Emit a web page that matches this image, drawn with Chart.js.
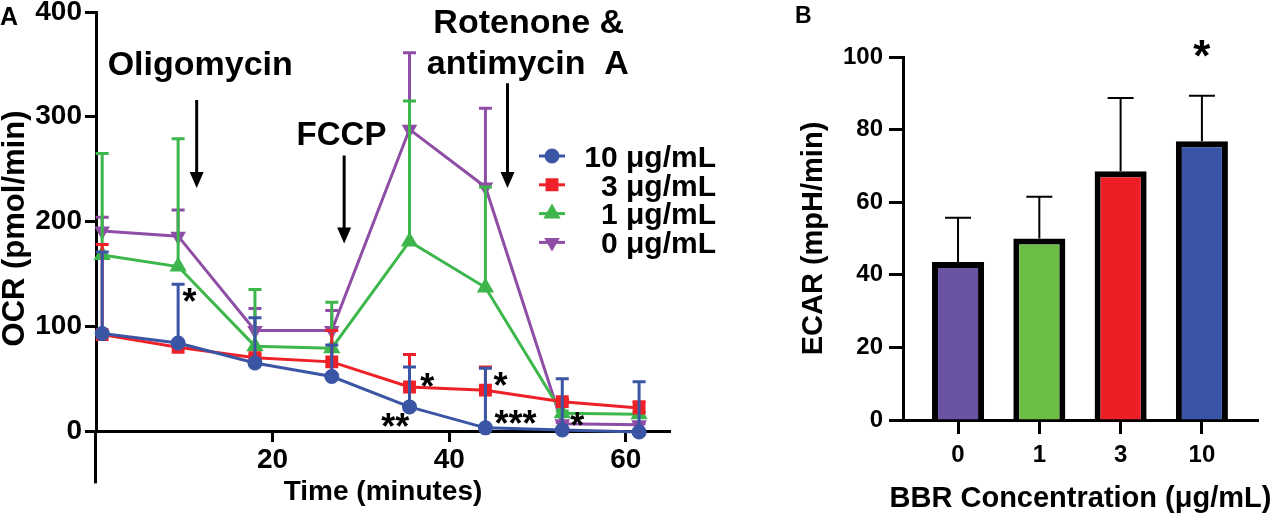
<!DOCTYPE html>
<html><head><meta charset="utf-8">
<script src="https://cdn.jsdelivr.net/npm/chart.js@4.4.1/dist/chart.umd.min.js"></script>
<style>
html,body{margin:0;padding:0;background:#fff;width:1275px;height:522px;overflow:hidden}
#wa{position:absolute;left:0;top:0;width:770px;height:522px}
#wb{position:absolute;left:770px;top:0;width:505px;height:522px}
</style></head><body>
<div id="wa"><canvas id="ca"></canvas></div>
<div id="wb"><canvas id="cb"></canvas></div>
<script>
const FONT = "'Liberation Sans', Arial, Helvetica, sans-serif";

// ---------- Panel A data ----------
const timeMinutes = [0.7, 9.3, 18.0, 26.7, 35.5, 44.1, 52.8, 61.5];
const seriesLabels = ['10 μg/mL', '3 μg/mL', '1 μg/mL', '0 μg/mL'];
const ocr10 = [93, 84, 65, 52, 23, 3, 1, -1];
const ocr10Sd = [78, 56, 43, 30, 38, 57, 49, 48];
const ocr3 = [92, 80, 70, 66, 42, 39, 28, 22];
const ocr3Sd = [86, 3, 3, 30, 31, 22, 2, 6];
const ocr1 = [168, 157, 81, 79, 181, 137, 17, 16];
const ocr1Sd = [97, 122, 54, 44, 134, 96, 2, 2];
const ocr0 = [191, 186, 96, 96, 288, 233, 7, 6];
const ocr0Sd = [13, 25, 21, 19, 73, 75, 1, 1];
const timeTicks = [20, 40, 60];
const ocrTicks = [0, 100, 200, 300, 400];

// ---------- Panel B data ----------
const concCategories = ['0', '1', '3', '10'];
const ecarMean = [43.5, 50.0, 68.5, 76.8];
const ecarSd = [12.2, 11.5, 20.2, 12.5];
const ecarTicks = [0, 20, 40, 60, 80, 100];

// ---------- styles ----------
const lineColors = ['#3B55A5', '#EE2028', '#3DB64B', '#8E4EA6'];
const pointStyles = ['circle', 'rect', 'triangle', 'triangle'];
const pointRotations = [0, 0, 0, 180];
const pointRadii = [6, 7, 7, 6];
const barColors = ['#6B53A3', '#6BBD45', '#ED1F26', '#3A55A5'];

const toXY = (xs, ys) => xs.map((x, i) => ({x: x, y: ys[i]}));
const f = (size, lh) => ({family: FONT, size: size, weight: 'bold', lineHeight: lh || 1.2});

const errorBarPlugin = {
  id: 'errbars',
  _draw(chart, args, opts) {
    const ds = chart.data.datasets[args.index];
    if (!ds.sd) return;
    const meta = args.meta;
    const ys = chart.scales[meta.yAxisID];
    const ctx = chart.ctx;
    ctx.save();
    ctx.strokeStyle = opts.color || ds.borderColor;
    ctx.lineWidth = opts.lineWidth;
    ctx.lineCap = 'butt';
    meta.data.forEach((el, i) => {
      const v = ds.data[i].y, s = ds.sd[i];
      const x = el.x, y0 = ys.getPixelForValue(v), y1 = ys.getPixelForValue(v + s);
      ctx.beginPath();
      ctx.moveTo(x, y0); ctx.lineTo(x, y1);
      ctx.moveTo(x - opts.cap / 2, y1); ctx.lineTo(x + opts.cap / 2, y1);
      ctx.stroke();
    });
    ctx.restore();
  },
  beforeDatasetDraw(chart, args, opts) { if (!opts.after) this._draw(chart, args, opts); },
  afterDatasetDraw(chart, args, opts) { if (opts.after) this._draw(chart, args, opts); }
};

const annotationPlugin = {
  id: 'annot',
  afterDatasetsDraw(chart, args, opts) {
    const ctx = chart.ctx, xs = chart.scales.x, ys = chart.scales.y, ca = chart.chartArea;
    ctx.save();
    ctx.fillStyle = '#000';
    ctx.strokeStyle = '#000';
    (opts.texts || []).forEach(t => {
      ctx.font = 'bold ' + t.size + 'px ' + FONT;
      ctx.textAlign = 'center';
      ctx.textBaseline = 'alphabetic';
      ctx.fillText(t.text, xs.getPixelForValue(t.x), ys.getPixelForValue(t.y) + (t.dy || 0));
    });
    (opts.arrows || []).forEach(a => {
      const x = xs.getPixelForValue(a.x), y0 = ys.getPixelForValue(a.from), y1 = ys.getPixelForValue(a.to);
      ctx.lineWidth = 3;
      ctx.beginPath(); ctx.moveTo(x, y0); ctx.lineTo(x, y1 - 14); ctx.stroke();
      ctx.beginPath(); ctx.moveTo(x - 7, y1 - 16); ctx.lineTo(x + 7, y1 - 16); ctx.lineTo(x, y1); ctx.closePath(); ctx.fill();
    });
    if (opts.panel) {
      ctx.font = 'bold ' + opts.panel.size + 'px ' + FONT;
      ctx.textAlign = 'left';
      ctx.fillText(opts.panel.text, opts.panel.x, opts.panel.y);
    }
    // axis titles (drawn here so they are not squeezed to the axis length)
    ctx.textAlign = 'center';
    ctx.textBaseline = 'middle';
    if (opts.xTitle) {
      ctx.font = 'bold ' + opts.xTitle.size + 'px ' + FONT;
      ctx.fillText(opts.xTitle.text, (ca.left + ca.right) / 2, chart.height - opts.xTitle.fromBottom);
    }
    if (opts.yTitle) {
      ctx.font = 'bold ' + opts.yTitle.size + 'px ' + FONT;
      ctx.translate(opts.yTitle.x, (ca.top + ca.bottom) / 2 + (opts.yTitle.dy || 0));
      ctx.rotate(-Math.PI / 2);
      ctx.fillText(opts.yTitle.text, 0, 0);
    }
    ctx.restore();
  }
};

const legendPlugin = {
  id: 'seriesLegend',
  afterDatasetsDraw(chart, args, opts) {
    if (!opts.show) return;
    const ctx = chart.ctx;
    ctx.save();
    chart.data.datasets.forEach((ds, i) => {
      const y = opts.top + i * opts.row;
      ctx.strokeStyle = ds.borderColor;
      ctx.fillStyle = ds.borderColor;
      ctx.lineWidth = 3;
      ctx.beginPath(); ctx.moveTo(opts.markerX - 13, y); ctx.lineTo(opts.markerX + 13, y); ctx.stroke();
      Chart.helpers.drawPoint(ctx, {pointStyle: ds.pointStyle, radius: ds.pointRadius, rotation: ds.pointRotation || 0, borderWidth: 1}, opts.markerX, y);
      ctx.fillStyle = '#000';
      ctx.font = 'bold ' + opts.size + 'px ' + FONT;
      ctx.textAlign = 'right';
      ctx.textBaseline = 'alphabetic';
      ctx.fillText(ds.label, opts.textRight, y + opts.size * 0.36);
    });
    ctx.restore();
  }
};

const yExtendPlugin = {
  id: 'yExtend',
  afterDraw(chart, args, opts) {
    if (opts.to === undefined) return;
    const ys = chart.scales.y, ctx = chart.ctx;
    ctx.save();
    ctx.strokeStyle = '#000'; ctx.lineWidth = 3;
    const x = Math.round(chart.chartArea.left) - 0.5;
    ctx.beginPath(); ctx.moveTo(x, ys.getPixelForValue(0)); ctx.lineTo(x, ys.getPixelForValue(opts.to)); ctx.stroke();
    ctx.restore();
  }
};

Chart.register(errorBarPlugin, annotationPlugin, legendPlugin, yExtendPlugin);

// ---------- Panel A ----------
const seriesValues = [ocr10, ocr3, ocr1, ocr0];
const seriesSd = [ocr10Sd, ocr3Sd, ocr1Sd, ocr0Sd];
const datasetsA = seriesLabels.map((lab, i) => ({
  label: lab,
  data: toXY(timeMinutes, seriesValues[i]),
  sd: seriesSd[i],
  borderColor: lineColors[i],
  backgroundColor: lineColors[i],
  pointBackgroundColor: lineColors[i],
  pointBorderColor: lineColors[i],
  pointStyle: pointStyles[i],
  pointRotation: pointRotations[i],
  pointRadius: pointRadii[i],
  borderWidth: 3,
  tension: 0,
  clip: false
}));

const axisCommon = {
  border: {display: true, color: '#000', width: 3},
  grid: {display: true, drawOnChartArea: false, color: '#000', tickColor: '#000', tickWidth: 3, tickLength: 11}
};

new Chart(document.getElementById('ca'), {
  type: 'line',
  data: {datasets: datasetsA},
  options: {
    responsive: true, maintainAspectRatio: false, animation: false,
    layout: {padding: {top: 12, right: 100, bottom: 0, left: 0}},
    plugins: {
      legend: {display: false}, tooltip: {enabled: false},
      errbars: {lineWidth: 3, cap: 13},
      yExtend: {to: -50},
      seriesLegend: {show: true, top: 156, row: 28.8, markerX: 552, textRight: 716, size: 30},
      annot: {
        panel: {text: 'A', x: 0, y: 25, size: 25},
        yTitle: {text: 'OCR (pmol/min)', size: 31, x: 15, dy: 7},
        texts: [
          {text: 'Oligomycin', x: 11.8, y: 340, size: 34},
          {text: 'FCCP', x: 27.8, y: 273, size: 33},
          {text: 'Rotenone &', x: 49.0, y: 380, size: 34},
          {text: 'antimycin  A', x: 48.9, y: 341, size: 34},
          {text: '*', x: 10.6, y: 132, size: 36, dy: 21},
          {text: '**', x: 33.9, y: 12, size: 36, dy: 21},
          {text: '*', x: 37.5, y: 51, size: 36, dy: 21},
          {text: '*', x: 45.8, y: 52, size: 36, dy: 21},
          {text: '***', x: 47.5, y: 15, size: 36, dy: 21},
          {text: '*', x: 54.5, y: 13, size: 36, dy: 21}
        ],
        arrows: [
          {x: 11.4, from: 316, to: 232},
          {x: 28.1, from: 263, to: 179},
          {x: 46.6, from: 332, to: 232}
        ]
      }
    },
    scales: {
      x: Object.assign({}, axisCommon, {
        type: 'linear', position: 'bottom', min: 0, max: 65,
        afterBuildTicks: s => { s.ticks = timeTicks.map(v => ({value: v})); },
        afterFit: s => { s.height = 91; s.paddingLeft = 0; s.paddingRight = 0; },
        ticks: {color: '#000', font: f(28), padding: 1, autoSkip: false, maxRotation: 0},
        title: {display: true, text: 'Time (minutes)', color: '#000', font: f(28), padding: {top: 0, bottom: 13}}
      }),
      y: Object.assign({}, axisCommon, {
        min: 0, max: 400,
        afterBuildTicks: s => { s.ticks = ocrTicks.map(v => ({value: v})); },
        afterFit: s => { s.width = 96; s.paddingTop = 0; s.paddingBottom = 0; },
        ticks: {color: '#000', font: f(28, 1.0), padding: 3},
        title: {display: false}
      })
    }
  }
});

// ---------- Panel B ----------
new Chart(document.getElementById('cb'), {
  type: 'bar',
  data: {
    datasets: [{
      label: 'ECAR',
      data: toXY(concCategories.map((c, i) => i), ecarMean),
      sd: ecarSd,
      backgroundColor: barColors,
      borderColor: '#000',
      borderWidth: 6,
      borderSkipped: 'start',
      barPercentage: 0.64,
      categoryPercentage: 1.0
    }]
  },
  options: {
    responsive: true, maintainAspectRatio: false, animation: false,
    layout: {padding: {top: 57, right: 17, bottom: 0, left: 0}},
    plugins: {
      legend: {display: false}, tooltip: {enabled: false},
      errbars: {lineWidth: 2, cap: 26, color: '#000', after: true},
      seriesLegend: {show: false},
      annot: {
        panel: {text: 'B', x: 25, y: 23, size: 23},
        xTitle: {text: 'BBR Concentration (μg/mL)', size: 29, fromBottom: 23},
        texts: [{text: '*', x: 3, y: 103, size: 44, dy: 25}]
      }
    },
    scales: {
      x: Object.assign({}, axisCommon, {
        type: 'linear', position: 'bottom', min: -0.677, max: 3.69, offset: false,
        grid: Object.assign({}, axisCommon.grid, {tickLength: 14, offset: false}),
        afterBuildTicks: s => { s.ticks = concCategories.map((c, i) => ({value: i})); },
        afterFit: s => { s.height = 102; s.paddingLeft = 0; s.paddingRight = 0; },
        ticks: {color: '#000', font: f(24), padding: 7, autoSkip: false, maxRotation: 0,
                callback: v => concCategories[v]},
        title: {display: false}
      }),
      y: Object.assign({}, axisCommon, {
        min: 0, max: 100,
        grid: Object.assign({}, axisCommon.grid, {tickLength: 14}),
        afterBuildTicks: s => { s.ticks = ecarTicks.map(v => ({value: v})); },
        afterFit: s => { s.width = 133; s.paddingTop = 0; s.paddingBottom = 0; },
        ticks: {color: '#000', font: f(24, 1.0), padding: 6},
        title: {display: true, text: 'ECAR (mpH/min)', color: '#000', font: f(29, 1.0), padding: {top: 29, bottom: 0}}
      })
    }
  }
});
</script>
</body></html>
